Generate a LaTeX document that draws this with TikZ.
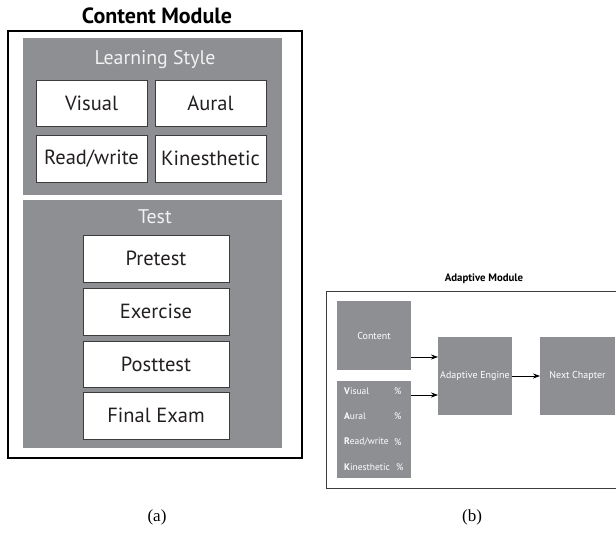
\documentclass[tikz,border=0pt]{standalone}
\usepackage{fontspec}
\setmainfont{Liberation Serif}
\newfontfamily\myr{PT Sans}
\usetikzlibrary{arrows.meta}
\definecolor{panelgray}{RGB}{142,143,147}
\definecolor{inkc}{RGB}{35,31,32}
\definecolor{edgec}{RGB}{60,60,60}
\begin{document}
\begin{tikzpicture}[x=1pt,y=-1pt,
  base/.style={rectangle,inner sep=0pt,outer sep=0pt,anchor=north west},
  panel/.style={base,fill=panelgray},
  wbox/.style={base,fill=white,draw=edgec,line width=0.8pt,font=\myr\fontsize{20.5}{22}\selectfont,text=inkc},
  gbox/.style={base,fill=panelgray,text=white,font=\myr\fontsize{10}{12}\selectfont},
  ptitle/.style={text=white!95!black,font=\myr\fontsize{19.8}{22}\selectfont},
  item/.style={anchor=west,text=white,font=\myr\fontsize{9.5}{11}\selectfont,inner sep=0pt},
  arr/.style={-{Stealth[length=7pt,width=5pt]},line width=0.7pt,black},
  captext/.style={font=\fontsize{17}{19}\selectfont}]
\useasboundingbox (0,0) rectangle (616,538);
% ---------- (a) Content Module ----------
\node[font=\myr\bfseries\fontsize{22}{24}\selectfont,text=black] (cmt) at (157,16) {Content Module};
\node[base,draw=black,line width=1.2pt,minimum width=294pt,minimum height=427pt] (cm) at (8,31) {};
\node[panel,minimum width=259pt,minimum height=157pt] (ls) at (23,38) {};
\node[ptitle] (lst) at (155,60) {Learning Style};
\node[wbox,minimum width=111pt,minimum height=46pt] (vis) at (36,80) {Visual};
\node[wbox,minimum width=111pt,minimum height=46pt] (aur) at (155,80) {Aural};
\node[wbox,minimum width=111pt,minimum height=47pt] (rw) at (36,135) {Read/write};
\node[wbox,minimum width=111pt,minimum height=47pt] (kin) at (155,135) {Kinesthetic};
\node[panel,minimum width=259pt,minimum height=248pt] (tp) at (23,200) {};
\node[ptitle] (tpt) at (155,217) {Test};
\node[wbox,minimum width=146pt,minimum height=47pt] (pre) at (83,235) {Pretest};
\node[wbox,minimum width=146pt,minimum height=47pt] (exe) at (83,288) {Exercise};
\node[wbox,minimum width=146pt,minimum height=46pt] (post) at (83,341) {Posttest};
\node[wbox,minimum width=146pt,minimum height=47pt] (fin) at (83,392) {Final Exam};
% ---------- (b) Adaptive Module ----------
\node[font=\myr\bfseries\fontsize{10.8}{12}\selectfont,text=black] (amt) at (484,279) {Adaptive Module};
\node[base,draw=edgec,line width=0.8pt,minimum width=300pt,minimum height=197pt] (am) at (326,291) {};
\node[gbox,minimum width=74pt,minimum height=69pt] (cont) at (337,301) {Content};
\node[panel,minimum width=74pt,minimum height=97pt] (lst2) at (337,381) {};
\node[item] (iv) at (344,391) {\textbf{V}isual};
\node[item] (ia) at (344,416) {\textbf{A}ural};
\node[item] (ir) at (344,442) {\textbf{R}ead/write};
\node[item] (ik) at (344,467) {\textbf{K}inesthetic};
\node[item] (pv) at (394,391) {\%};
\node[item] (pa) at (394,416) {\%};
\node[item] (pr) at (394,442) {\%};
\node[item] (pk) at (396,467) {\%};
\node[gbox,minimum width=74pt,minimum height=78pt] (eng) at (438,337) {Adaptive Engine};
\node[gbox,minimum width=75pt,minimum height=78pt] (next) at (540,337) {Next Chapter};
\coordinate (c1) at (411,357);
\coordinate (c2) at (411,395);
\draw[arr] (c1) -- (c1 -| eng.west);
\draw[arr] (c2) -- (c2 -| eng.west);
\draw[arr] (eng.east) -- (next.west);
% ---------- captions ----------
\node[captext] (ca) at (157,517) {(a)};
\node[captext] (cb) at (472,517) {(b)};
\end{tikzpicture}
\end{document}
